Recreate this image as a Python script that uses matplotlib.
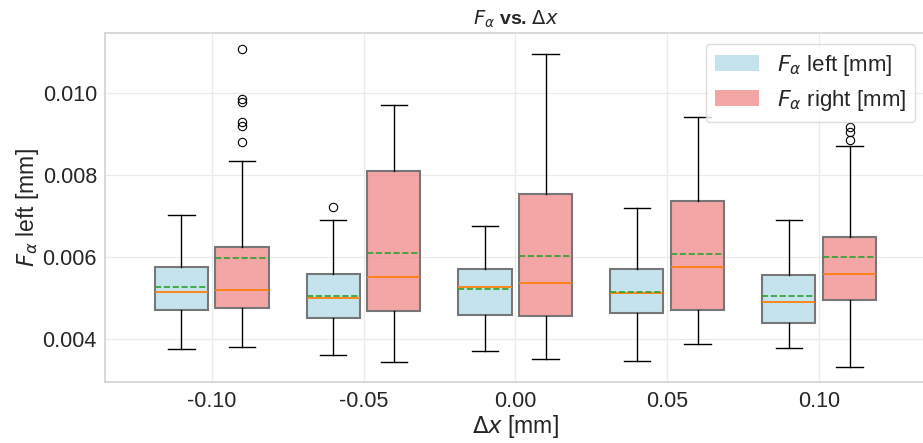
import matplotlib
matplotlib.use("Agg")
import matplotlib.pyplot as plt
from matplotlib.patches import Patch
from matplotlib.colors import to_rgba

# ---- data ----
categories = ["-0.10", "-0.05", "0.00", "0.05", "0.10"]
series = ["$F_\\alpha$ left [mm]", "$F_\\alpha$ right [mm]"]

left_whislo = [0.00376, 0.00362, 0.00371, 0.00348, 0.00378]
left_q1     = [0.00472, 0.00451, 0.00459, 0.00464, 0.00440]
left_med    = [0.00515, 0.00500, 0.00527, 0.00512, 0.00492]
left_mean   = [0.00528, 0.00506, 0.00523, 0.00516, 0.00505]
left_q3     = [0.00577, 0.00558, 0.00572, 0.00572, 0.00557]
left_whishi = [0.00702, 0.00691, 0.00676, 0.00719, 0.00691]
left_fliers = [[], [0.00723], [], [], []]

right_whislo = [0.00382, 0.00345, 0.00352, 0.00388, 0.00333]
right_q1     = [0.00477, 0.00469, 0.00457, 0.00472, 0.00496]
right_med    = [0.00521, 0.00551, 0.00537, 0.00577, 0.00558]
right_mean   = [0.00598, 0.00611, 0.00602, 0.00607, 0.00601]
right_q3     = [0.00626, 0.00810, 0.00754, 0.00738, 0.00650]
right_whishi = [0.00836, 0.00972, 0.01095, 0.00943, 0.00872]
right_fliers = [[0.01108, 0.00985, 0.00979, 0.00931, 0.00919, 0.00880],
                [], [], [], [0.00917, 0.00905, 0.00886]]

yticks = [0.004, 0.006, 0.008, 0.010]
ytick_labels = ["0.004", "0.006", "0.008", "0.010"]


def make_stats(lo, q1, med, mean, q3, hi, fl):
    return [dict(whislo=a, q1=b, med=c, mean=d, q3=e, whishi=f, fliers=g)
            for a, b, c, d, e, f, g in zip(lo, q1, med, mean, q3, hi, fl)]


left_stats = make_stats(left_whislo, left_q1, left_med, left_mean, left_q3, left_whishi, left_fliers)
right_stats = make_stats(right_whislo, right_q1, right_med, right_mean, right_q3, right_whishi, right_fliers)

plt.rcParams['font.family'] = ['Liberation Sans', 'DejaVu Sans']
plt.rcParams['mathtext.fontset'] = 'dejavusans'
text_color = '#262626'

fig = plt.figure(figsize=(9.23, 4.43), dpi=100)
ax = fig.add_axes([105.3 / 923, 1 - 382.3 / 443, (925.5 - 105.3) / 923, (382.3 - 33) / 443])
ax.set_facecolor('white')

idx = list(range(len(categories)))
pos_left = [i - 0.2 for i in idx]
pos_right = [i + 0.2 for i in idx]

common = dict(widths=0.35, patch_artist=True, showmeans=True, meanline=True,
              medianprops=dict(color='#ff7f0e', linewidth=1.3),
              meanprops=dict(color='#2ca02c', linestyle='--', linewidth=1.2),
              whiskerprops=dict(color='black', linewidth=1.0),
              capprops=dict(color='black', linewidth=1.0),
              flierprops=dict(marker='o', markerfacecolor='none', markeredgecolor='black',
                              markersize=6, markeredgewidth=0.8),
              boxprops=dict(linewidth=1.5))

bl = ax.bxp(left_stats, positions=pos_left, **common)
br = ax.bxp(right_stats, positions=pos_right, **common)
for b in bl['boxes']:
    b.set_facecolor(to_rgba('lightblue', 0.7))
    b.set_edgecolor('#777777')
for b in br['boxes']:
    b.set_facecolor(to_rgba('lightcoral', 0.7))
    b.set_edgecolor('#777777')

ax.set_xlim(-0.7, 4.7)
ax.set_ylim(0.00295, 0.01147)
ax.set_xticks(idx)
ax.set_xticklabels(categories)
ax.set_yticks(yticks)
ax.set_yticklabels(ytick_labels)
ax.tick_params(axis='both', length=0, labelsize=15.5, colors=text_color, pad=6)

ax.grid(True, color='#ebebeb', linewidth=0.9)
ax.set_axisbelow(True)
for s in ax.spines.values():
    s.set_color('#d6d6d6')
    s.set_linewidth(1.3)

ax.set_xlabel("$\\Delta x$ [mm]", fontsize=16.5, color=text_color, labelpad=1)
ax.set_ylabel("$F_\\alpha$ left [mm]", fontsize=16.5, color=text_color, labelpad=1)
ax.set_title("$F_\\alpha$ vs. $\\Delta x$", fontsize=14, fontweight='bold', color=text_color, pad=6)

handles = [Patch(facecolor=to_rgba('lightblue', 0.7), edgecolor='none', label=series[0]),
           Patch(facecolor=to_rgba('lightcoral', 0.7), edgecolor='none', label=series[1])]
leg = fig.legend(handles=handles, loc='upper right', fontsize=16, frameon=True, fancybox=True,
                 borderaxespad=0, labelspacing=0.45,
                 bbox_to_anchor=(915 / 923, 1 - 44 / 443))
leg.get_frame().set_edgecolor('#d6d6d6')
for t in leg.get_texts():
    t.set_color(text_color)

fig.savefig("out.png", dpi=100)
